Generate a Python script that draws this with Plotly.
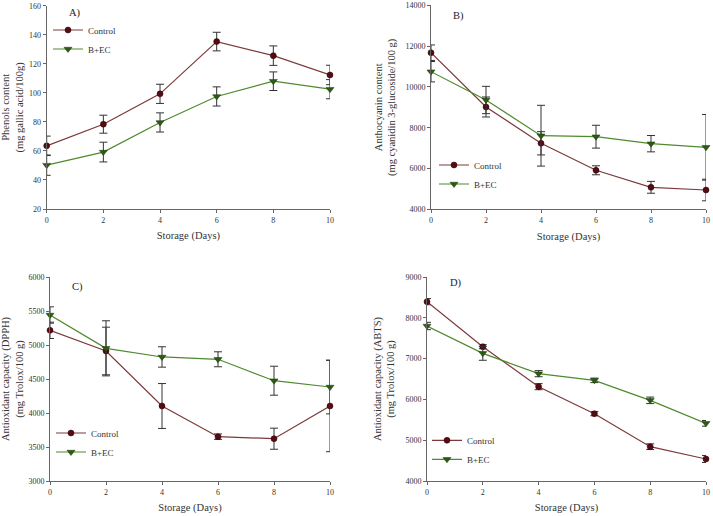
import plotly.graph_objects as go
from plotly.subplots import make_subplots

days = [0, 2, 4, 6, 8, 10]
series_names = ["Control", "B+EC"]

# A) Phenols
phenols_control = [63.5, 78.4, 99.3, 135.3, 125.6, 112.3]
phenols_control_err = [6.7, 6.2, 6.6, 6.4, 6.7, 6.7]
phenols_bec = [50.2, 59.2, 79.6, 97.5, 108.0, 102.5]
phenols_bec_err = [7.0, 6.8, 6.6, 6.6, 6.4, 6.6]

# B) Anthocyanin
antho_control = [11676, 9015, 7235, 5912, 5078, 4946]
antho_control_err = [380, 490, 570, 220, 290, 530]
antho_bec = [10745, 9358, 7608, 7559, 7216, 7039]
antho_bec_err = [500, 670, 1490, 560, 400, 1610]

# C) DPPH
dpph_control = [5216, 4912, 4103, 3652, 3622, 4103]
dpph_control_err = [120, 350, 330, 40, 155, 672]
dpph_bec = [5441, 4951, 4824, 4790, 4475, 4382]
dpph_bec_err = [120, 405, 150, 110, 213, 395]

# D) ABTS
abts_control = [8395, 7292, 6312, 5650, 4841, 4539]
abts_control_err = [75, 50, 75, 50, 70, 85]
abts_bec = [7799, 7129, 6631, 6467, 5977, 5413]
abts_bec_err = [90, 170, 75, 55, 80, 70]

panels = [
    dict(label="A)", ytitle="Phenols content<br>(mg gallic acid/100g)",
         yrange=[20, 160], dtick=20,
         ctrl=phenols_control, ctrl_err=phenols_control_err,
         bec=phenols_bec, bec_err=phenols_bec_err),
    dict(label="B)", ytitle="Anthocyanin content<br>(mg cyanidin 3-glucoside/100 g)",
         yrange=[4000, 14000], dtick=2000,
         ctrl=antho_control, ctrl_err=antho_control_err,
         bec=antho_bec, bec_err=antho_bec_err),
    dict(label="C)", ytitle="Antioxidant capacity (DPPH)<br>(mg Trolox/100 g)",
         yrange=[3000, 6000], dtick=500,
         ctrl=dpph_control, ctrl_err=dpph_control_err,
         bec=dpph_bec, bec_err=dpph_bec_err),
    dict(label="D)", ytitle="Antioxidant capacity (ABTS)<br>(mg Trolox/100 g)",
         yrange=[4000, 9000], dtick=1000,
         ctrl=abts_control, ctrl_err=abts_control_err,
         bec=abts_bec, bec_err=abts_bec_err),
]

W, H = 713, 516
# plot-area boxes in pixels (left, right, top, bottom)
boxes = [(46.7, 330, 5.7, 209), (431, 706, 5.3, 209.3),
         (50, 330, 277, 481), (427, 706, 277, 481)]
legend_pos = [(48, 39.5), (434, 174.5), (51, 442.5), (427, 449.8)]
label_px = [(67, 13), (451, 15.7), (70, 287.3), (448, 283.3)]
ystandoff = [10, 7, 9, 8]

FONT = "Liberation Serif"
CTRL_LINE = "#7d3a3a"
CTRL_MARK = "#560a12"
BEC_LINE = "#4f8a2e"
BEC_MARK = "#2c5a12"
ERR = "#333333"
AXC = "#666666"
TXT = "#333333"

fig = make_subplots(rows=2, cols=2)

layout_updates = {}
for i, p in enumerate(panels):
    r, c = i // 2 + 1, i % 2 + 1
    leg = "legend" if i == 0 else f"legend{i+1}"
    fig.add_trace(go.Scatter(
        x=days, y=p["ctrl"], name=series_names[0], mode="lines+markers",
        line=dict(color=CTRL_LINE, width=1.2),
        marker=dict(symbol="circle", size=6, color=CTRL_MARK,
                    line=dict(color="#2a0000", width=0.5)),
        error_y=dict(type="data", array=p["ctrl_err"], color=ERR,
                     thickness=1, width=4),
        cliponaxis=False, legend=leg), row=r, col=c)
    fig.add_trace(go.Scatter(
        x=days, y=p["bec"], name=series_names[1], mode="lines+markers",
        line=dict(color=BEC_LINE, width=1.2),
        marker=dict(symbol="triangle-down", size=7, color=BEC_MARK,
                    line=dict(color="#1a3a08", width=0.5)),
        error_y=dict(type="data", array=p["bec_err"], color=ERR,
                     thickness=1, width=4),
        cliponaxis=False, legend=leg), row=r, col=c)

    left, right, top, bottom = boxes[i]
    xname = "xaxis" if i == 0 else f"xaxis{i+1}"
    yname = "yaxis" if i == 0 else f"yaxis{i+1}"
    layout_updates[xname] = dict(
        domain=[left / W, right / W], range=[0, 10], tickvals=days,
        automargin=False,
        showgrid=False, zeroline=False, showline=True, linecolor=AXC,
        linewidth=1, ticks="outside", ticklen=3, tickcolor=AXC,
        tickfont=dict(family=FONT, size=8, color=TXT),
        title=dict(text="Storage (Days)", standoff=8,
                   font=dict(family=FONT, size=10.5, color=TXT)))
    layout_updates[yname] = dict(
        domain=[1 - bottom / H, 1 - top / H], range=p["yrange"], dtick=p["dtick"],
        tick0=p["yrange"][0], tickformat="d", automargin=False,
        showgrid=False, zeroline=False, showline=True, linecolor=AXC,
        linewidth=1, ticks="outside", ticklen=3, tickcolor=AXC,
        tickfont=dict(family=FONT, size=8, color=TXT),
        title=dict(text=p["ytitle"], standoff=ystandoff[i],
                   font=dict(family=FONT, size=10.5, color=TXT)))

    lx, ly = legend_pos[i]
    layout_updates[leg] = dict(
        x=lx / W, y=1 - ly / H, xanchor="left", yanchor="middle",
        bgcolor="rgba(0,0,0,0)", borderwidth=0,
        font=dict(family=FONT, size=9, color=TXT),
        tracegroupgap=0, itemwidth=30)

    px_, py_ = label_px[i]
    fig.add_annotation(text=p["label"], x=px_ / W, y=1 - py_ / H,
                       xref="paper", yref="paper",
                       xanchor="left", yanchor="middle", showarrow=False,
                       font=dict(family=FONT, size=10.5, color="#222222"))

fig.update_layout(**layout_updates)
fig.update_layout(
    template="none",
    width=W, height=H, margin=dict(l=0, r=0, t=0, b=0, pad=0),
    paper_bgcolor="white", plot_bgcolor="white", showlegend=True,
    hovermode=False,
    font=dict(family=FONT, size=9, color=TXT))

fig.write_html("out.html",
               config={"displayModeBar": False, "staticPlot": True},
               post_script="document.body.style.margin='0px';"
                           "document.body.style.overflow='hidden';")
